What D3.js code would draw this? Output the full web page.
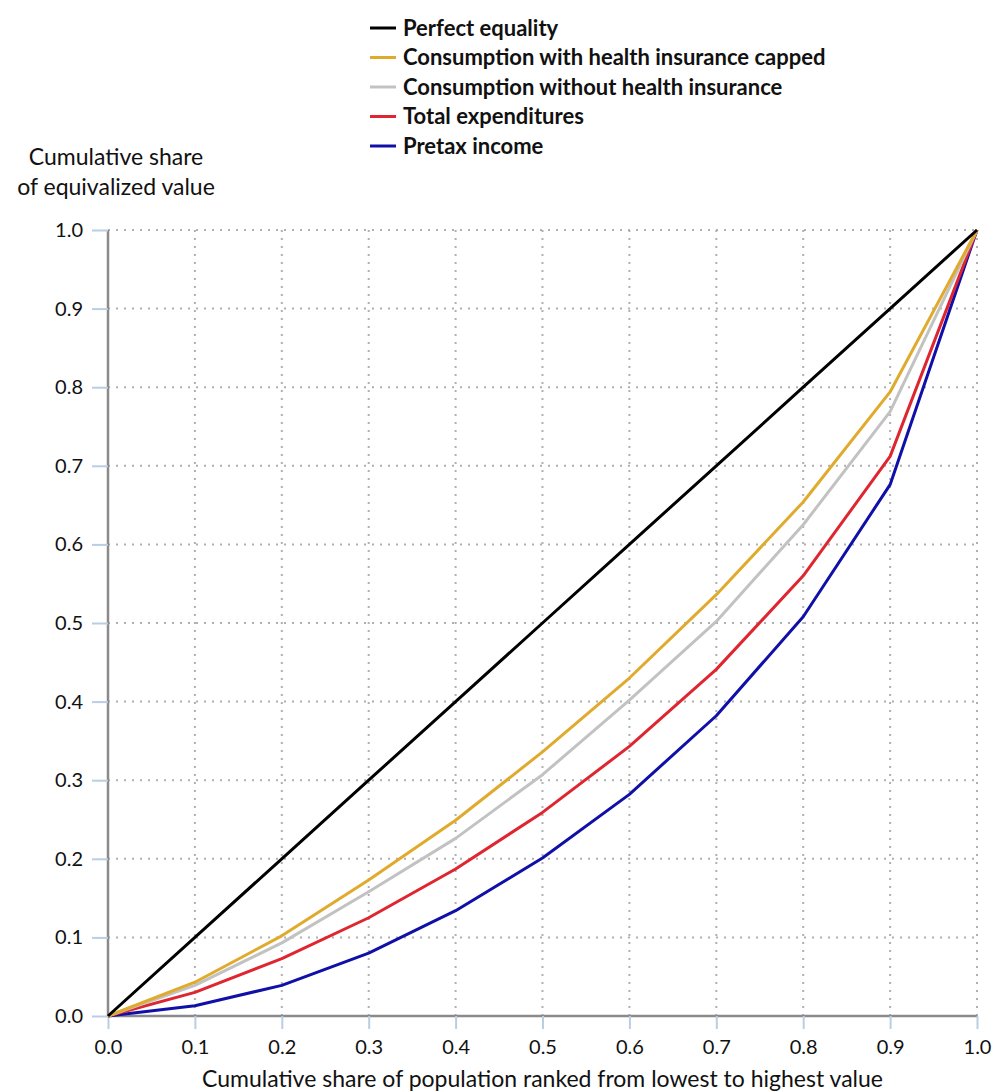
<!DOCTYPE html>
<html>
<head>
<meta charset="utf-8">
<script src="https://cdn.jsdelivr.net/npm/d3@7"></script>
<style>
  html, body { margin: 0; padding: 0; background: #fff; }
  svg { display: block; font-family: Lato, "Open Sans", sans-serif; }
</style>
</head>
<body>
<svg id="chart" width="996" height="1092"></svg>
<script>
// Cumulative population shares (deciles)
const populationShare = [0, 0.1, 0.2, 0.3, 0.4, 0.5, 0.6, 0.7, 0.8, 0.9, 1.0];

// Cumulative share of equivalized value for each measure
const perfectEquality = [0, 0.1, 0.2, 0.3, 0.4, 0.5, 0.6, 0.7, 0.8, 0.9, 1.0];
const consumptionCapped = [0, 0.043, 0.102, 0.173, 0.249, 0.336, 0.430, 0.536, 0.654, 0.794, 1.0];
const consumptionNoHealth = [0, 0.039, 0.093, 0.158, 0.226, 0.307, 0.402, 0.502, 0.625, 0.769, 1.0];
const totalExpenditures = [0, 0.030, 0.073, 0.125, 0.187, 0.259, 0.343, 0.441, 0.560, 0.712, 1.0];
const pretaxIncome = [0, 0.013, 0.039, 0.080, 0.134, 0.201, 0.282, 0.382, 0.508, 0.676, 1.0];

const xTicks = [0, 0.1, 0.2, 0.3, 0.4, 0.5, 0.6, 0.7, 0.8, 0.9, 1.0];
const yTicks = [0, 0.1, 0.2, 0.3, 0.4, 0.5, 0.6, 0.7, 0.8, 0.9, 1.0];

const seriesNames = [
  "Perfect equality",
  "Consumption with health insurance capped",
  "Consumption without health insurance",
  "Total expenditures",
  "Pretax income"
];
const seriesValues = [perfectEquality, consumptionCapped, consumptionNoHealth, totalExpenditures, pretaxIncome];
const seriesColors = ["#000000", "#e0aa2c", "#c2c2c2", "#df2630", "#1010a8"];

const svg = d3.select("#chart");
const margin = { left: 108, right: 19, top: 230, bottom: 76 };
const W = 996, H = 1092;

const x = d3.scaleLinear().domain([0, 1]).range([margin.left, W - margin.right]);
const y = d3.scaleLinear().domain([0, 1]).range([H - margin.bottom, margin.top]);

// Dotted grid
const grid = svg.append("g").attr("class", "grid");
grid.selectAll("line.h").data(yTicks.filter(d => d > 0)).join("line")
  .attr("x1", x(0)).attr("x2", x(1))
  .attr("y1", d => y(d)).attr("y2", d => y(d))
  .attr("stroke", "#b0b0b0").attr("stroke-width", 2)
  .attr("stroke-dasharray", "2,6");
grid.selectAll("line.v").data(xTicks.filter(d => d > 0)).join("line")
  .attr("y1", y(0)).attr("y2", y(1))
  .attr("x1", d => x(d)).attr("x2", d => x(d))
  .attr("stroke", "#b0b0b0").attr("stroke-width", 2)
  .attr("stroke-dasharray", "2,6");

// Axes
const fmt = d3.format(".1f");
const yAxis = svg.append("g")
  .attr("transform", `translate(${x(0)},0)`)
  .call(d3.axisLeft(y).tickValues(yTicks).tickFormat(fmt).tickSize(16).tickPadding(9));
const xAxis = svg.append("g")
  .attr("transform", `translate(0,${y(0)})`)
  .call(d3.axisBottom(x).tickValues(xTicks).tickFormat(fmt).tickSize(13).tickPadding(7));

[yAxis, xAxis].forEach(ax => {
  ax.select(".domain").attr("stroke", "#8a8a8a").attr("stroke-width", 2.5);
  ax.selectAll(".tick line").attr("stroke", "#b9cde3").attr("stroke-width", 2);
  ax.selectAll(".tick text").attr("fill", "#111").style("font-size", "20px")
    .style("font-family", "Lato, 'Open Sans', sans-serif");
});
yAxis.select(".domain").attr("d", `M0,${y(0)}V${y(1)}`);
xAxis.select(".domain").attr("d", `M${x(0)},0H${x(1)}`);
xAxis.selectAll(".tick text").attr("dy", "0.9em");

// Lines
const line = d3.line()
  .x((d, i) => x(populationShare[i]))
  .y(d => y(d));

// draw bottom-most curve first so upper curves overlay it near the origin
const order = [4, 3, 2, 1, 0];
svg.append("g").selectAll("path").data(order).join("path")
  .attr("d", i => line(seriesValues[i]))
  .attr("fill", "none")
  .attr("stroke", i => seriesColors[i])
  .attr("stroke-width", 3)
  .attr("stroke-linejoin", "round");

// Axis titles
svg.append("text")
  .attr("text-anchor", "middle")
  .style("font-size", "23px").attr("fill", "#111")
  .selectAll("tspan").data(["Cumulative share", "of equivalized value"]).join("tspan")
  .attr("x", 116).attr("y", (d, i) => 165 + i * 30).text(d => d);

svg.append("text")
  .attr("x", (x(0) + x(1)) / 2).attr("y", 1087)
  .attr("text-anchor", "middle")
  .style("font-size", "23px").attr("fill", "#111")
  .text("Cumulative share of population ranked from lowest to highest value");

// Legend
const legend = svg.append("g").attr("transform", "translate(370,28)");
const rows = legend.selectAll("g").data(seriesNames).join("g")
  .attr("transform", (d, i) => `translate(0,${i * 29.5})`);
rows.append("line")
  .attr("x1", 0).attr("x2", 26).attr("y1", 0).attr("y2", 0)
  .attr("stroke", (d, i) => seriesColors[i]).attr("stroke-width", 3);
rows.append("text")
  .attr("x", 33).attr("y", 0).attr("dy", "0.35em")
  .style("font-size", "22px").style("font-weight", "bold").attr("fill", "#111")
  .text(d => d);
</script>
</body>
</html>
